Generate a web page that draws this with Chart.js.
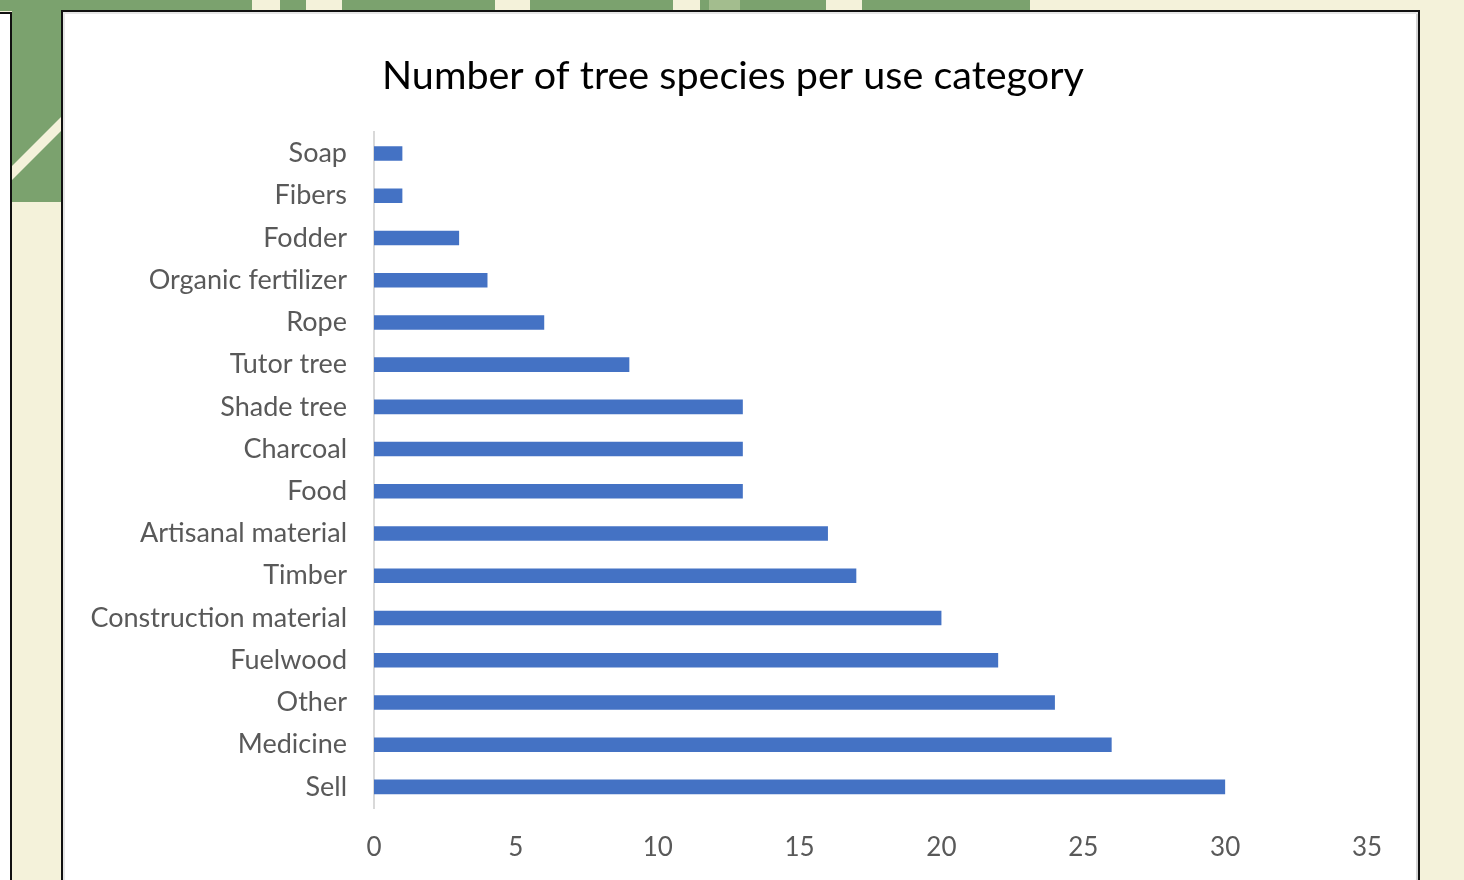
<!DOCTYPE html>
<html>
<head>
<meta charset="utf-8">
<script src="https://cdn.jsdelivr.net/npm/chart.js@4/dist/chart.umd.min.js"></script>
<style>
  html, body { margin: 0; padding: 0; }
  body {
    width: 1464px; height: 880px; overflow: hidden; position: relative;
    background: #f4f2da;
  }
  .deco { position: absolute; }
  .green { background: #7ba26e; }
  .cream { background: #f4f2da; }
  .pale { background: #a3bd8e; }
  #leftPanel {
    position: absolute; left: -2px; top: 12px; width: 12px; height: 880px;
    background: #fff; border: 2px solid #111; border-left: none;
  }
  #panel {
    position: absolute; left: 61px; top: 10px; width: 1355px; height: 880px;
    background: #fff; border: 2px solid #111;
    box-shadow: inset 2px 2px 0 #e6e6e6, inset -2px 0 0 #d4d4d4;
  }
  #chart { position: absolute; left: 0; top: 0; }
</style>
</head>
<body>
  <!-- leafy header strip -->
  <div class="deco green" style="left:0;top:0;width:1030px;height:11px;"></div>
  <div class="deco cream" style="left:252px;top:0;width:28px;height:11px;"></div>
  <div class="deco cream" style="left:306px;top:0;width:36px;height:11px;"></div>
  <div class="deco cream" style="left:495px;top:0;width:35px;height:11px;"></div>
  <div class="deco cream" style="left:673px;top:0;width:27px;height:11px;"></div>
  <div class="deco pale"  style="left:709px;top:0;width:31px;height:11px;"></div>
  <div class="deco cream" style="left:826px;top:0;width:36px;height:11px;"></div>
  <!-- leafy side column -->
  <div class="deco green" style="left:12px;top:0;width:50px;height:202px;overflow:hidden;">
    <div class="deco cream" style="left:-20px;top:138px;width:100px;height:10px;transform:rotate(-45deg);"></div>
  </div>
  <div id="leftPanel"></div>
  <div id="panel"></div>
  <canvas id="chart" width="1464" height="880"></canvas>

<script>
const categories = [
  'Soap', 'Fibers', 'Fodder', 'Organic fertilizer', 'Rope', 'Tutor tree',
  'Shade tree', 'Charcoal', 'Food', 'Artisanal material', 'Timber',
  'Construction material', 'Fuelwood', 'Other', 'Medicine', 'Sell'
];
const speciesCounts = [1, 1, 3, 4, 6, 9, 13, 13, 13, 16, 17, 20, 22, 24, 26, 30];
const xTickValues = [0, 5, 10, 15, 20, 25, 30, 35];

const chartTitle = 'Number of tree species per use category';
const barColor = '#4472c4';
const labelColor = '#595959';
const fontFamily = 'Lato, "Open Sans", sans-serif';

// Center the title across the whole panel rather than only the plot's span.
const titleSpan = {
  id: 'titleSpan',
  afterLayout(chart) {
    if (chart.titleBlock) {
      chart.titleBlock.left = 0;
      chart.titleBlock.right = 1466;
    }
  }
};

new Chart(document.getElementById('chart'), {
  type: 'bar',
  data: {
    labels: categories,
    datasets: [{
      data: speciesCounts,
      backgroundColor: barColor,
      borderWidth: 0,
      barPercentage: 1,
      categoryPercentage: 0.345
    }]
  },
  options: {
    indexAxis: 'y',
    responsive: false,
    devicePixelRatio: 1,
    animation: false,
    layout: { padding: { left: 0, right: 97, top: 37, bottom: 0 } },
    plugins: {
      legend: { display: false },
      tooltip: { enabled: false },
      title: {
        display: true,
        text: chartTitle,
        color: '#000',
        font: { family: fontFamily, size: 39.5, weight: 'normal' },
        padding: { top: 16, bottom: 32 }
      }
    },
    scales: {
      x: {
        min: 0,
        max: 35,
        afterBuildTicks: (scale) => { scale.ticks = xTickValues.map(v => ({ value: v })); },
        afterFit: (scale) => { scale.height = 72; },
        grid: { display: false, drawTicks: false },
        border: { display: false },
        ticks: {
          color: labelColor,
          padding: 24,
          font: { family: fontFamily, size: 26 }
        }
      },
      y: {
        afterFit: (scale) => { scale.width = 374; },
        grid: { display: false, drawTicks: false },
        border: { display: true, color: '#d9d9d9', width: 2 },
        ticks: {
          color: labelColor,
          padding: 27,
          autoSkip: false,
          font: { family: fontFamily, size: 27 }
        }
      }
    }
  },
  plugins: [titleSpan]
});
</script>
</body>
</html>
